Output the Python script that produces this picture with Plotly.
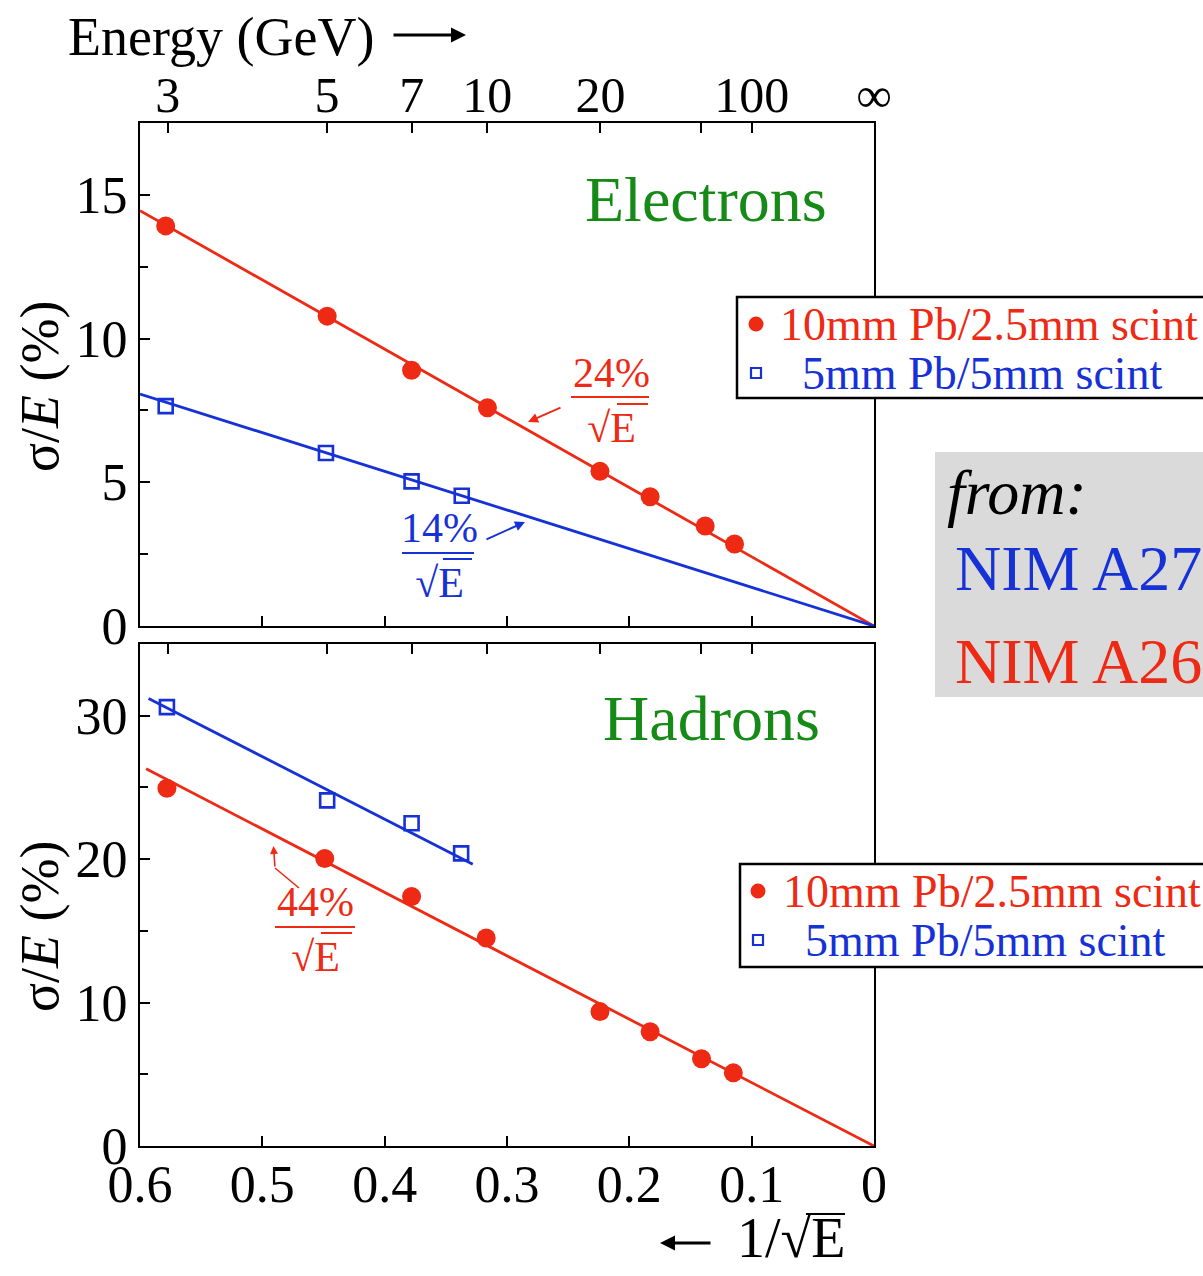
import plotly.graph_objects as go

# ---------------- data ----------------
# x = 1/sqrt(E) ; y = sigma/E in %
elec_red_x = [0.579, 0.447, 0.378, 0.316, 0.224, 0.183, 0.138, 0.114]
elec_red_y = [13.92, 10.78, 8.90, 7.59, 5.38, 4.50, 3.48, 2.85]
elec_blue_x = [0.579, 0.448, 0.378, 0.337]
elec_blue_y = [7.65, 6.02, 5.03, 4.53]

had_red_x = [0.578, 0.449, 0.378, 0.317, 0.224, 0.183, 0.141, 0.115]
had_red_y = [24.94, 20.05, 17.40, 14.50, 9.37, 7.97, 6.08, 5.10]
had_blue_x = [0.578, 0.447, 0.378, 0.3375]
had_blue_y = [30.6, 24.1, 22.5, 20.4]

# fitted lines (end points)
elec_red_fit_x = [0.6, 0.0]
elec_red_fit_y = [14.45, 0.0]
elec_blue_fit_x = [0.6, 0.0]
elec_blue_fit_y = [8.07, 0.0]
had_red_fit_x = [0.595, 0.0]
had_red_fit_y = [26.3, 0.0]
had_blue_fit_x = [0.593, 0.328]
had_blue_fit_y = [31.2, 19.65]

# axes ticks
inv_sqrt_ticks = [0.6, 0.5, 0.4, 0.3, 0.2, 0.1, 0.0]
inv_sqrt_labels = ["0.6", "0.5", "0.4", "0.3", "0.2", "0.1", "0"]
energy_tickvals = [0.57735, 0.44721, 0.37796, 0.31623, 0.22361, 0.14142, 0.1, 0.0]
energy_ticklabels = ["3", "5", "7", "10", "20", "", "100", "∞"]
elec_yticks = [0, 5, 10, 15]
had_yticks = [0, 10, 20, 30]

legend_names = ["10mm Pb/2.5mm scint", "5mm Pb/5mm scint"]

# ---------------- style ----------------
RED = "#ee2a14"
BLUE = "#1631d6"
GREEN = "#168a16"
FONT = "Liberation Serif, Times New Roman, serif"

W, H = 1203, 1276
L, R, T, B = 140, 874, 123, 1146


def px(x):
    return (x - L) / (R - L)


def py(y):
    return (B - y) / (B - T)


fig = go.Figure()

# top panel (electrons): x2/y2
fig.add_trace(go.Scatter(x=elec_red_fit_x, y=elec_red_fit_y, mode="lines",
                         line=dict(color=RED, width=2.8), showlegend=False,
                         xaxis="x2", yaxis="y2"))
fig.add_trace(go.Scatter(x=elec_blue_fit_x, y=elec_blue_fit_y, mode="lines",
                         line=dict(color=BLUE, width=2.8), showlegend=False,
                         xaxis="x2", yaxis="y2"))
fig.add_trace(go.Scatter(x=elec_red_x, y=elec_red_y, mode="markers",
                         marker=dict(symbol="circle", size=19, color=RED),
                         name=legend_names[0], showlegend=False,
                         xaxis="x2", yaxis="y2"))
fig.add_trace(go.Scatter(x=elec_blue_x, y=elec_blue_y, mode="markers",
                         marker=dict(symbol="square-open", size=14, color=BLUE,
                                     line=dict(width=2.6, color=BLUE)),
                         name=legend_names[1], showlegend=False,
                         xaxis="x2", yaxis="y2"))

# bottom panel (hadrons): x/y
fig.add_trace(go.Scatter(x=had_red_fit_x, y=had_red_fit_y, mode="lines",
                         line=dict(color=RED, width=2.8), showlegend=False,
                         xaxis="x", yaxis="y"))
fig.add_trace(go.Scatter(x=had_blue_fit_x, y=had_blue_fit_y, mode="lines",
                         line=dict(color=BLUE, width=2.8), showlegend=False,
                         xaxis="x", yaxis="y"))
fig.add_trace(go.Scatter(x=had_red_x, y=had_red_y, mode="markers",
                         marker=dict(symbol="circle", size=19, color=RED),
                         name=legend_names[0], showlegend=False,
                         xaxis="x", yaxis="y"))
fig.add_trace(go.Scatter(x=had_blue_x, y=had_blue_y, mode="markers",
                         marker=dict(symbol="square-open", size=14, color=BLUE,
                                     line=dict(width=2.6, color=BLUE)),
                         name=legend_names[1], showlegend=False,
                         xaxis="x", yaxis="y"))

# empty traces so that the energy (top) axes are drawn
fig.add_trace(go.Scatter(x=[None], y=[None], xaxis="x3", yaxis="y",
                         showlegend=False, hoverinfo="skip"))
fig.add_trace(go.Scatter(x=[None], y=[None], xaxis="x4", yaxis="y2",
                         showlegend=False, hoverinfo="skip"))

axis_common = dict(showgrid=False, zeroline=False, showline=True, linecolor="black",
                   linewidth=2, ticks="inside", ticklen=10, tickwidth=1.5,
                   tickcolor="black", tickfont=dict(family=FONT, size=52, color="black"))

bot_dom = [0, py(644)]
top_dom = [py(626), 1]

fig.update_layout(
    width=W, height=H,
    margin=dict(l=L, r=W - R, t=T, b=H - B, autoexpand=False),
    paper_bgcolor="white", plot_bgcolor="white",
    font=dict(family=FONT, color="black"),
    showlegend=False,
    xaxis=dict(axis_common, domain=[0, 1], anchor="y", range=[0.6, 0],
               tickvals=inv_sqrt_ticks, ticktext=inv_sqrt_labels, mirror=True,
               ticklabelstandoff=-8),
    xaxis2=dict(axis_common, domain=[0, 1], anchor="y2", range=[0.6, 0],
                tickvals=inv_sqrt_ticks, showticklabels=False, mirror=True),
    xaxis3=dict(axis_common, overlaying="x", anchor="y", side="top", range=[0.6, 0],
                tickvals=energy_tickvals, showticklabels=False, showline=False),
    xaxis4=dict(axis_common, overlaying="x2", anchor="y2", side="top", range=[0.6, 0],
                tickvals=energy_tickvals, ticktext=energy_ticklabels, showline=False,
                tickfont=dict(family=FONT, size=50, color="black")),
    yaxis=dict(axis_common, domain=bot_dom, anchor="x", range=[0, 35],
               tickvals=had_yticks, mirror=True,
               minor=dict(ticks="inside", ticklen=8, tickcolor="black", dtick=5, tick0=0)),
    yaxis2=dict(axis_common, domain=top_dom, anchor="x2", range=[0, 17.5],
                tickvals=elec_yticks, mirror=True,
                minor=dict(ticks="inside", ticklen=8, tickcolor="black", dtick=2.5, tick0=0)),
)

ann = []
shapes = []


def text(x, y, s, size, color="black", xanchor="center", angle=0):
    ann.append(dict(x=px(x), y=py(y), xref="paper", yref="paper", text=s,
                    showarrow=False, xanchor=xanchor, yanchor="middle",
                    textangle=angle, font=dict(family=FONT, size=size, color=color)))


def hline(x0, x1, y, color, width=2):
    shapes.append(dict(type="line", xref="paper", yref="paper", x0=px(x0), x1=px(x1),
                       y0=py(y), y1=py(y), line=dict(color=color, width=width)))


def arrow(xh, yh, xt, yt, color, width=2, head=2, size=1):
    ann.append(dict(x=px(xh), y=py(yh), xref="paper", yref="paper", text="",
                    showarrow=True, ax=xt - xh, ay=yt - yh, axref="pixel", ayref="pixel",
                    arrowhead=head, arrowsize=size, arrowwidth=width, arrowcolor=color))


def legend_box(x0, y0, x1, y1, row1_y, row2_y, sym_x, txt1_x, txt2_x):
    shapes.append(dict(type="rect", xref="paper", yref="paper", x0=px(x0), x1=px(x1),
                       y0=py(y1), y1=py(y0), fillcolor="white",
                       line=dict(color="black", width=2.5)))
    r = 7.5
    shapes.append(dict(type="circle", xref="paper", yref="paper",
                       x0=px(sym_x - r), x1=px(sym_x + r),
                       y0=py(row1_y + r), y1=py(row1_y - r),
                       fillcolor=RED, line=dict(color=RED, width=0)))
    s = 5
    shapes.append(dict(type="rect", xref="paper", yref="paper",
                       x0=px(sym_x - s), x1=px(sym_x + s),
                       y0=py(row2_y + s), y1=py(row2_y - s),
                       fillcolor="white", line=dict(color=BLUE, width=2.2)))
    text(txt1_x, row1_y, legend_names[0], 46, RED, xanchor="left")
    text(txt2_x, row2_y, legend_names[1], 46, BLUE, xanchor="left")


# titles
text(40, 386, "σ/<i>E</i> (%)", 54, angle=-90)
text(40, 926, "σ/<i>E</i> (%)", 54, angle=-90)
text(66, 37, "Energy (GeV)", 54, xanchor="left")
arrow(466, 35, 392, 35, "black", width=3, head=2, size=1.0)
text(735, 1238, "1/√E", 56, xanchor="left")
hline(806, 845, 1214, "black", 2)
arrow(660, 1243, 712, 1243, "black", width=3, head=2, size=1.0)

# panel labels
text(706, 199, "Electrons", 64, GREEN)
text(711, 719, "Hadrons", 64, GREEN)

# fraction labels
text(611, 400, "24%<br>√E", 42, RED)
hline(571, 649, 397, RED, 2)
hline(617, 648, 404, RED, 2)
arrow(528, 422, 562, 407, RED, width=2, head=2, size=1)

text(439, 555, "14%<br>√E", 42, BLUE)
hline(402, 474, 553, BLUE, 2)
hline(443, 472, 559, BLUE, 2)
arrow(525, 522, 485, 540, BLUE, width=2, head=2, size=1)

text(315, 929, "44%<br>√E", 42, RED)
hline(275, 355, 927, RED, 2)
hline(321, 352, 933, RED, 2)
shapes.append(dict(type="line", xref="paper", yref="paper", x0=px(299), y0=py(888),
                   x1=px(275), y1=py(868), line=dict(color=RED, width=1.6)))
arrow(273.5, 846, 275, 868, RED, width=1.6, head=2, size=1)

# legends (drawn as boxes)
legend_box(737, 297, 1220, 398, 324, 373, 756, 778, 800)
legend_box(740, 864, 1220, 967, 891, 940, 758, 781, 803)

# source box
shapes.append(dict(type="rect", xref="paper", yref="paper", x0=px(935), x1=px(1215),
                   y0=py(697), y1=py(452), fillcolor="#dadada", line=dict(width=0),
                   layer="below"))
text(945, 492, "<i>from:</i>", 64, "black", xanchor="left")
text(953, 568, "NIM A27", 64, BLUE, xanchor="left")
text(953, 661, "NIM A26", 64, RED, xanchor="left")

fig.update_layout(annotations=ann, shapes=shapes)

fig.write_html("out.html")
